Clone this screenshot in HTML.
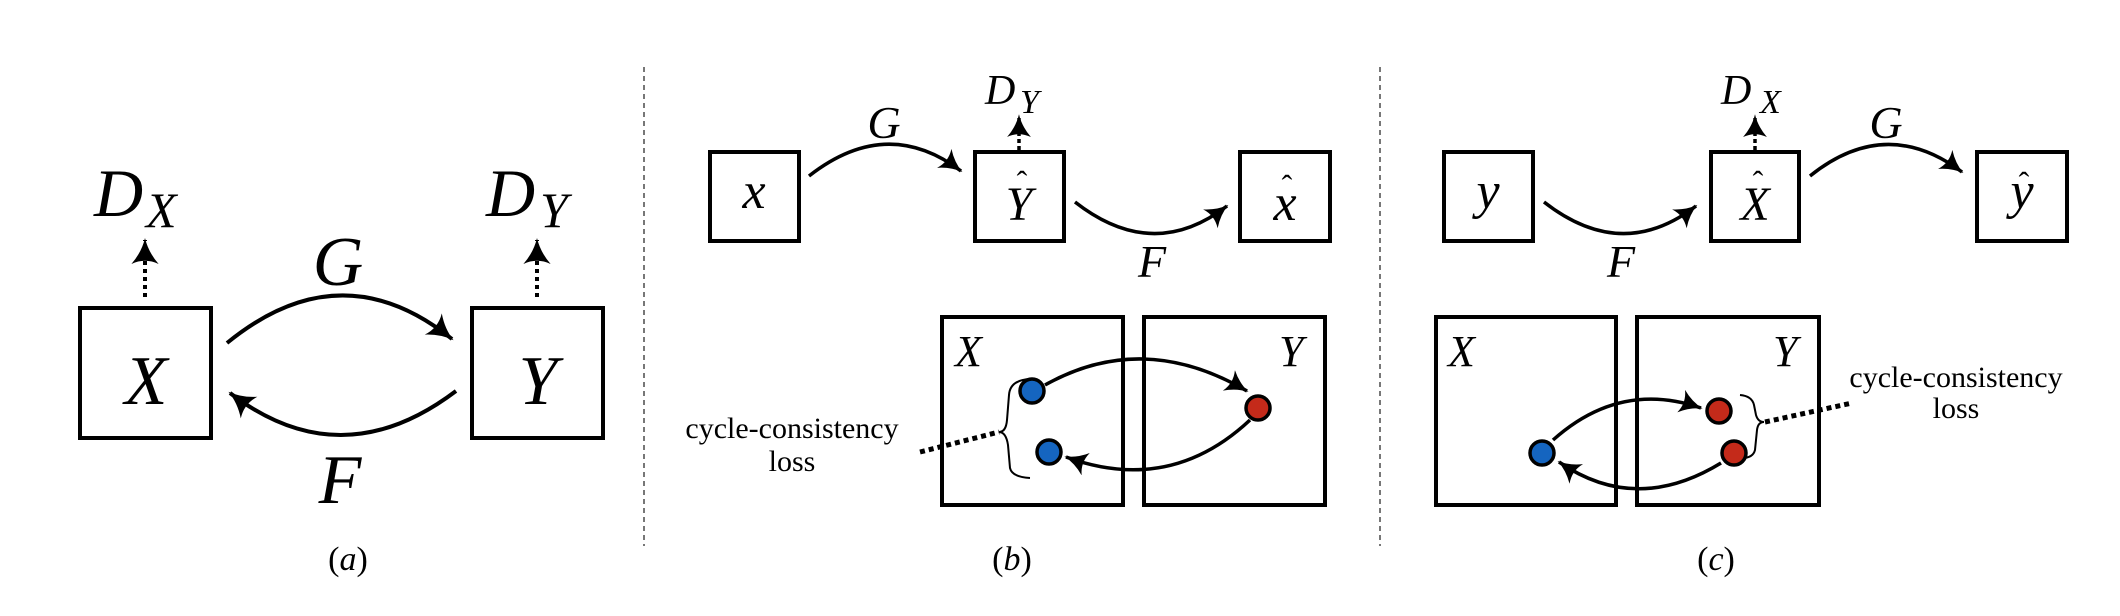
<!DOCTYPE html>
<html><head><meta charset="utf-8"><style>
html,body{margin:0;padding:0;background:#fff;}
svg{display:block;}
text{font-family:"Liberation Serif",serif;fill:#000;}
.m{font-style:italic;}
</style></head><body>
<svg width="2120" height="616" viewBox="0 0 2120 616" xmlns="http://www.w3.org/2000/svg">
<defs>
<marker id="ah" markerWidth="8" markerHeight="8" refX="6" refY="4" orient="auto" markerUnits="strokeWidth">
<path d="M0,0.6 Q3,3.2 6.5,4 Q3,4.8 0,7.4 Q1.6,4 0,0.6Z" fill="#000"/>
</marker>
</defs>
<g fill="none" stroke="#000">
<line x1="644" y1="67" x2="644" y2="546" stroke="#777" stroke-width="2" stroke-dasharray="5,4"/>
<line x1="1380" y1="67" x2="1380" y2="546" stroke="#777" stroke-width="2" stroke-dasharray="5,4"/>

<rect x="80" y="308" width="131" height="130" stroke-width="4"/>
<rect x="472" y="308" width="131" height="130" stroke-width="4"/>
<line x1="145" y1="297" x2="145" y2="240" stroke-width="4" stroke-dasharray="4,4" marker-end="url(#ah)"/>
<line x1="537" y1="297" x2="537" y2="240" stroke-width="4" stroke-dasharray="4,4" marker-end="url(#ah)"/>
<path d="M227,343 Q341,250 452,339" stroke-width="4" marker-end="url(#ah)"/>
<path d="M456,391 Q341,478 230,393" stroke-width="4" marker-end="url(#ah)"/>

<rect x="710" y="152" width="89" height="89" stroke-width="4"/>
<rect x="975" y="152" width="89" height="89" stroke-width="4"/>
<rect x="1240" y="152" width="90" height="89" stroke-width="4"/>
<line x1="1019" y1="150" x2="1019" y2="116" stroke-width="3.5" stroke-dasharray="4,3" marker-end="url(#ah)"/>
<path d="M809,176 Q887,115 961,171" stroke-width="3.5" marker-end="url(#ah)"/>
<path d="M1075,202 Q1153,263 1227,206" stroke-width="3.5" marker-end="url(#ah)"/>
<rect x="942" y="317" width="181" height="188" stroke-width="4"/>
<rect x="1144" y="317" width="181" height="188" stroke-width="4"/>
<path d="M1045,385 Q1143,330 1247,391" stroke-width="3.5" marker-end="url(#ah)"/>
<path d="M1250,420 Q1170,495 1066,457" stroke-width="3.5" marker-end="url(#ah)"/>
<path d="M1030,379 Q1010,380 1009,395 L1007,420 Q1006,432 999,432 Q1006,432 1008,445 L1010,468 Q1012,477 1030,478" stroke-width="2"/>
<line x1="920" y1="452" x2="999" y2="432" stroke-width="5" stroke-dasharray="5,4"/>

<rect x="1444" y="152" width="89" height="89" stroke-width="4"/>
<rect x="1711" y="152" width="88" height="89" stroke-width="4"/>
<rect x="1977" y="152" width="90" height="89" stroke-width="4"/>
<line x1="1755" y1="150" x2="1755" y2="116" stroke-width="3.5" stroke-dasharray="4,3" marker-end="url(#ah)"/>
<path d="M1810,176 Q1886,115 1962,172" stroke-width="3.5" marker-end="url(#ah)"/>
<path d="M1544,202 Q1622,263 1696,206" stroke-width="3.5" marker-end="url(#ah)"/>
<rect x="1436" y="317" width="180" height="188" stroke-width="4"/>
<rect x="1637" y="317" width="182" height="188" stroke-width="4"/>
<path d="M1553,440 Q1620,380 1701,408" stroke-width="3.5" marker-end="url(#ah)"/>
<path d="M1721,463 Q1636,515 1559,462" stroke-width="3.5" marker-end="url(#ah)"/>
<path d="M1740,395 Q1752,396 1754,405 L1756,415 Q1758,422 1764,422 Q1758,422 1757,430 L1755,450 Q1753,458 1742,458" stroke-width="2"/>
<line x1="1765" y1="422" x2="1852" y2="403" stroke-width="5" stroke-dasharray="5,4"/>
</g>

<g stroke="#000" stroke-width="3.5">
<circle cx="1032" cy="391" r="12" fill="#1565c0"/>
<circle cx="1049" cy="452" r="12" fill="#1565c0"/>
<circle cx="1258" cy="408" r="12" fill="#c42a1a"/>
<circle cx="1542" cy="453" r="12" fill="#1565c0"/>
<circle cx="1719" cy="411" r="12" fill="#c42a1a"/>
<circle cx="1734" cy="453" r="12" fill="#c42a1a"/>
</g>

<text class="m" x="94" y="216" font-size="68">D</text>
<text class="m" x="146" y="227" font-size="50">X</text>
<text class="m" x="486" y="216" font-size="68">D</text>
<text class="m" x="540" y="227" font-size="50">Y</text>
<text class="m" x="338" y="285" font-size="70" text-anchor="middle">G</text>
<text class="m" x="340" y="503" font-size="70" text-anchor="middle">F</text>
<text class="m" x="146" y="404" font-size="70" text-anchor="middle">X</text>
<text class="m" x="538" y="404" font-size="70" text-anchor="middle">Y</text>
<text x="348" y="570" font-size="34" text-anchor="middle">(<tspan class="m">a</tspan>)</text>

<text class="m" x="754" y="208" font-size="52" text-anchor="middle">x</text>
<text class="m" x="1019" y="220" font-size="48" text-anchor="middle">Y</text>
<text x="1022" y="193" font-size="32" text-anchor="middle">ˆ</text>
<text class="m" x="1285" y="220" font-size="52" text-anchor="middle">x</text>
<text x="1287" y="197" font-size="32" text-anchor="middle">ˆ</text>
<text class="m" x="985" y="104" font-size="42">D</text>
<text class="m" x="1020" y="113" font-size="34">Y</text>
<text class="m" x="884" y="138" font-size="46" text-anchor="middle">G</text>
<text class="m" x="1152" y="277" font-size="46" text-anchor="middle">F</text>
<text class="m" x="955" y="366" font-size="44">X</text>
<text class="m" x="1279" y="366" font-size="44">Y</text>
<text x="792" y="438" font-size="30" text-anchor="middle">cycle-consistency</text>
<text x="792" y="471" font-size="30" text-anchor="middle">loss</text>
<text x="1012" y="570" font-size="34" text-anchor="middle">(<tspan class="m">b</tspan>)</text>

<text class="m" x="1488" y="208" font-size="52" text-anchor="middle">y</text>
<text class="m" x="1755" y="220" font-size="48" text-anchor="middle">X</text>
<text x="1758" y="193" font-size="32" text-anchor="middle">ˆ</text>
<text class="m" x="2022" y="208" font-size="52" text-anchor="middle">y</text>
<text x="2024" y="194" font-size="32" text-anchor="middle">ˆ</text>
<text class="m" x="1721" y="104" font-size="42">D</text>
<text class="m" x="1760" y="113" font-size="34">X</text>
<text class="m" x="1886" y="138" font-size="46" text-anchor="middle">G</text>
<text class="m" x="1621" y="277" font-size="46" text-anchor="middle">F</text>
<text class="m" x="1448" y="366" font-size="44">X</text>
<text class="m" x="1773" y="366" font-size="44">Y</text>
<text x="1956" y="387" font-size="30" text-anchor="middle">cycle-consistency</text>
<text x="1956" y="418" font-size="30" text-anchor="middle">loss</text>
<text x="1716" y="570" font-size="34" text-anchor="middle">(<tspan class="m">c</tspan>)</text>
</svg>
</body></html>
